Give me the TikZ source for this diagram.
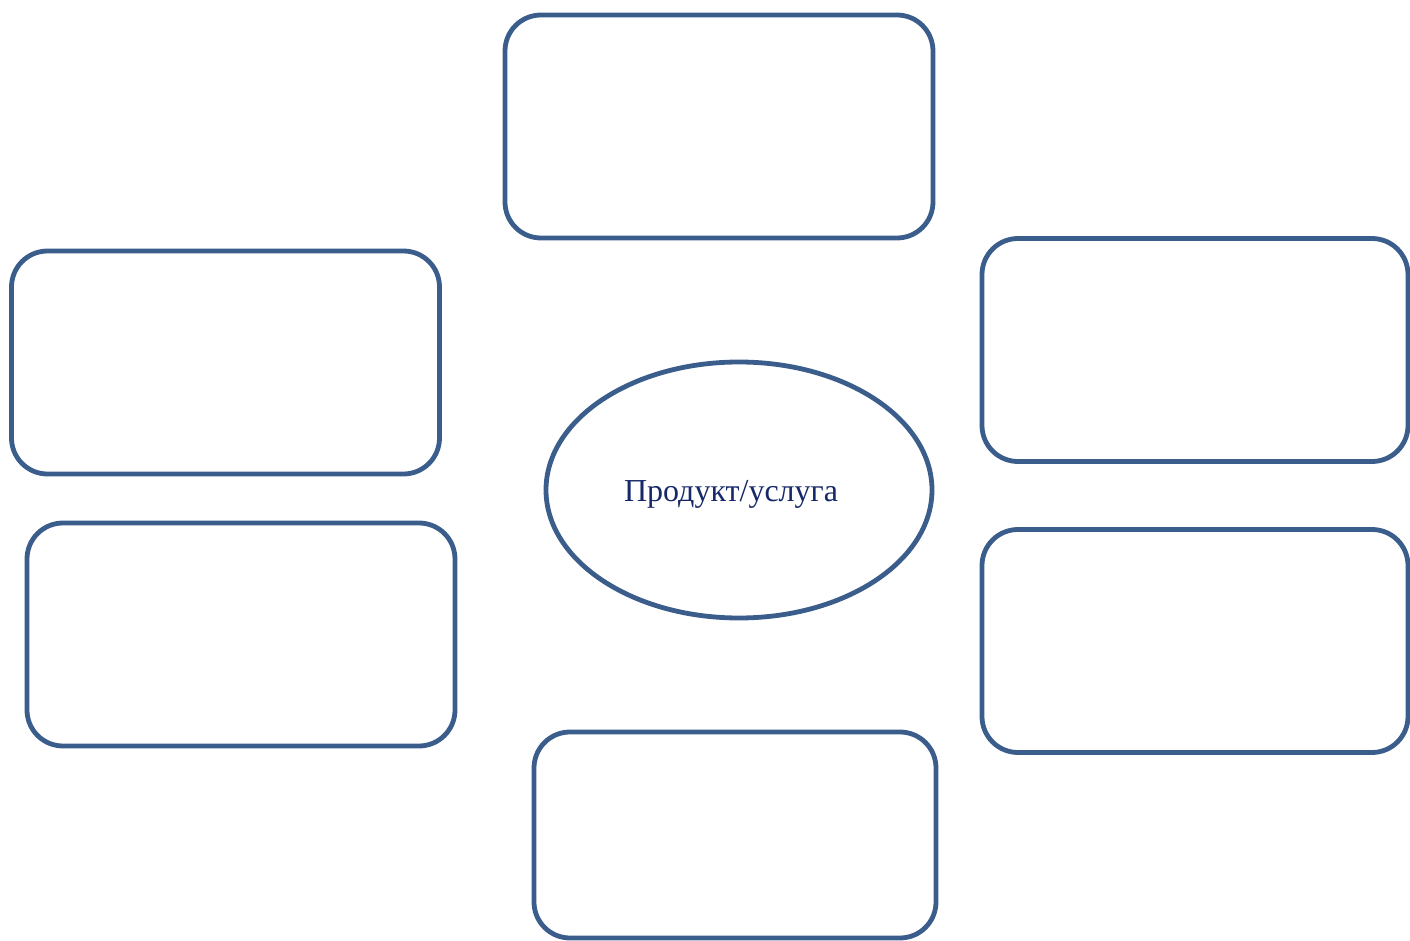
\documentclass[tikz,border=0pt]{standalone}
\usepackage{fontspec}
\setmainfont{Liberation Serif}
\usetikzlibrary{shapes.geometric}

\definecolor{frameblue}{HTML}{3A5D8C}
\definecolor{inkblue}{HTML}{16286A}

\tikzset{
  card/.style={draw=frameblue, line width=2.4pt, rectangle, rounded corners=18pt,
    inner sep=0pt, minimum width=214pt, minimum height=111.5pt},
  hub/.style={draw=frameblue, line width=2.4pt, ellipse, inner sep=0pt,
    minimum width=193pt, minimum height=128pt},
  hublabel/.style={inner sep=0pt, text=inkblue, font=\fontsize{16}{19}\selectfont}
}

\begin{document}
\begin{tikzpicture}[x=0.5pt, y=-0.5pt]

            % Page frame
            \useasboundingbox (0,0) rectangle (1410,941);
            \clip (0,0) rectangle (1410,941);

            % Centre
            \node[hub] (product) at (739,490) {};
            \node[hublabel] (productlabel) at (731,494) {Продукт/услуга};

            % Boxes around it
            \node[card] (top) at (719,126.5) {};
            \node[card] (lefttop) at (225.5,362.5) {};
            \node[card] (leftbottom) at (241,634.5) {};
            \node[card, minimum width=213pt] (righttop) at (1195,350) {};
            \node[card, minimum width=213pt] (rightbottom) at (1195,641) {};
            \node[card, minimum width=201pt, minimum height=103pt] (bottom) at (735,835) {};

\end{tikzpicture}
\end{document}
